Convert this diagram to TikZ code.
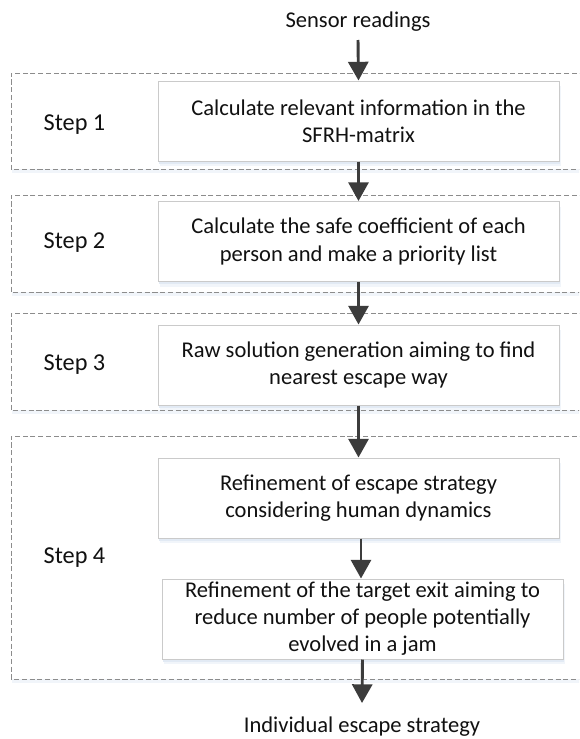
\documentclass[tikz,border=0pt]{standalone}
\usepackage{fontspec}
\setmainfont{Carlito}
\usetikzlibrary{arrows.meta,shadows,calc}
\definecolor{arrowgray}{HTML}{3C3C3C}
\definecolor{dashgray}{HTML}{8C8C8C}
\definecolor{boxborder}{HTML}{CACACA}
\definecolor{shadowA}{HTML}{E2EAF4}
\definecolor{shadowB}{HTML}{F1F5FA}
\definecolor{txt}{HTML}{111111}
\tikzset{
  stepbox/.style={draw=boxborder, line width=0.75pt, fill=white,
    minimum width=300.75pt, minimum height=60pt, inner sep=0pt,
    align=center, text=txt, font=\fontsize{16.9}{20.3}\selectfont,
    general shadow={fill=shadowB, shadow xshift=1.2pt, shadow yshift=-4pt},
    general shadow={fill=shadowA, shadow xshift=0.75pt, shadow yshift=-2.2pt}},
  stepframe/.style={draw=dashgray, line width=0.75pt, dash pattern=on 3.8pt off 2pt},
  steplabel/.style={text=txt, font=\fontsize{18.2}{22}\selectfont, inner sep=0pt},
  ioText/.style={text=txt, font=\fontsize{16.9}{20.3}\selectfont, inner sep=0pt},
  flowarrow/.style={draw=arrowgray, line width=2.2pt,
    -{Triangle[width=15pt,length=14pt]}, shorten >=0pt}
}
\begin{document}
\begin{tikzpicture}[x=0.75pt,y=-0.75pt]
\useasboundingbox (0,0) rectangle (579,739);
\clip (0,0) rectangle (579,739);
\fill[white] (0,0) rectangle (579,739);

% dashed step frames
\fill[shadowB] (12,169) rectangle (600,173);
\fill[shadowB] (12,292) rectangle (600,296);
\fill[shadowB] (12,410) rectangle (600,414);
\fill[shadowB] (12,679) rectangle (600,683);
\draw[stepframe] (600,73) -- (11,73) -- (11,169) -- (600,169);
\draw[stepframe] (600,195) -- (11,195) -- (11,292) -- (600,292);
\draw[stepframe] (600,313) -- (11,313) -- (11,410) -- (600,410);
\draw[stepframe] (600,436) -- (11,436) -- (11,679) -- (600,679);

% labels
\node[steplabel] (s1) at (74.5,125) {Step 1};
\node[steplabel] (s2) at (74.5,243) {Step 2};
\node[steplabel] (s3) at (74.5,365) {Step 3};
\node[steplabel] (s4) at (74.5,558) {Step 4};

% input / output
\node[ioText, anchor=base] (in) at (358,27) {Sensor readings};
\node[ioText, anchor=base] (out) at (362,732) {Individual escape strategy};
\coordinate (inA) at (358,40);
\coordinate (outA) at (362,703);

% process boxes
\node[stepbox] (b1) at (358.5,121) {Calculate relevant information in the\\SFRH-matrix};
\node[stepbox] (b2) at (358.5,241.5) {Calculate the safe coefficient of each\\person and make a priority list};
\node[stepbox] (b3) at (358.5,365) {Raw solution generation aiming to find\\nearest escape way};
\node[stepbox] (b4) at (358.5,498) {Refinement of escape strategy\\considering human dynamics};
\node[stepbox] (b5) at (362.5,619) {Refinement of the target exit aiming to\\reduce number of people potentially\\evolved in a jam};

% connectors
\coordinate (m45) at (361,0);
\draw[flowarrow] (inA) -- (b1.north);
\draw[flowarrow] (b1.south) -- (b2.north);
\draw[flowarrow] (b2.south) -- (b3.north);
\draw[flowarrow] (b3.south) -- (b4.north);
\draw[flowarrow] (b4.south -| m45) -- (b5.north -| m45);
\draw[flowarrow] (b5.south) -- (outA);
\end{tikzpicture}
\end{document}
